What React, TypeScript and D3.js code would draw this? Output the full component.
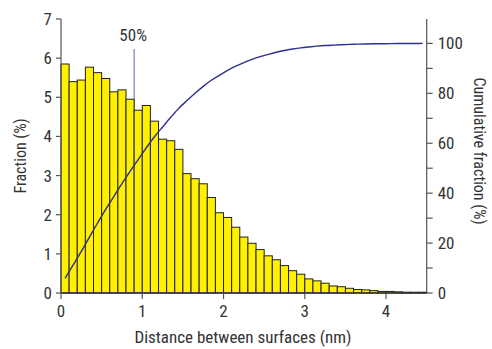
import React from "react";
import * as d3 from "d3";

const binStarts: number[] = Array.from({ length: 45 }, (_, i) => +(i * 0.1).toFixed(1));
const fractions: number[] = [
  5.85, 5.4, 5.44, 5.77, 5.63, 5.48, 5.14, 5.19, 4.95, 4.67,
  4.79, 4.39, 3.93, 3.89, 3.67, 3.05, 2.92, 2.79, 2.44, 2.05,
  1.93, 1.68, 1.43, 1.27, 1.11, 0.95, 0.85, 0.7, 0.57, 0.48,
  0.36, 0.31, 0.25, 0.18, 0.16, 0.12, 0.09, 0.08, 0.06, 0.04,
  0.04, 0.03, 0.02, 0.02, 0.02,
];
const binWidth = 0.1;
const xTicks: number[] = [0, 1, 2, 3, 4];
const yTicks: number[] = [0, 1, 2, 3, 4, 5, 6, 7];
const yRTicks: number[] = [0, 20, 40, 60, 80, 100];
const yRMinor: number[] = [10, 30, 50, 70, 90];
const medianX = 0.9;
const medianLabel = "50%";

const FONT = "'Liberation Sans Narrow', 'Arial Narrow', 'Roboto Condensed', 'Liberation Sans', sans-serif";

export default function App() {
  const x = d3.scaleLinear().domain([0, 4.5]).range([61, 426.7]);
  const y = d3.scaleLinear().domain([0, 7]).range([293, 19]);
  const yR = d3.scaleLinear().domain([0, 100]).range([293, 43.4]);

  const total = d3.sum(fractions);
  const cum = d3.cumsum(fractions);
  const pts: [number, number][] = binStarts.map((b, i) => [b + binWidth / 2, (cum[i] / total) * 100]);
  const line = d3
    .line<[number, number]>()
    .x((d) => x(d[0]))
    .y((d) => yR(d[1]))
    .curve(d3.curveMonotoneX);

  const axisColor = "#555";
  const textColor = "#333";

  return (
    <svg
      width={492}
      height={349}
      style={{ position: "absolute", left: 0, top: 0, background: "#fff" }}
      fontFamily={FONT}
    >
      {/* median marker */}
      <line x1={x(medianX)} x2={x(medianX)} y1={49} y2={y(0)} stroke="#7482c4" strokeWidth={1.2} />
      <text x={x(medianX) - 1} y={41} fontSize={17} textAnchor="middle" fill={textColor}>
        {medianLabel}
      </text>

      {/* bars */}
      {binStarts.map((b, i) => (
        <rect
          key={i}
          x={x(b)}
          y={y(fractions[i])}
          width={x(b + binWidth) - x(b)}
          height={y(0) - y(fractions[i])}
          fill="#fff000"
          stroke="#222"
          strokeWidth={1}
        />
      ))}

      {/* cumulative line */}
      <path d={line(pts) || ""} fill="none" stroke="#2e2f8f" strokeWidth={1.4} />

      {/* left axis */}
      <line x1={x(0)} x2={x(0)} y1={y(0)} y2={y(7)} stroke={axisColor} strokeWidth={1.2} />
      {yTicks.map((t) => (
        <g key={t}>
          <line x1={x(0) - 5} x2={x(0)} y1={y(t)} y2={y(t)} stroke={axisColor} strokeWidth={1.2} />
          <text x={x(0) - 9} y={y(t) + 6} fontSize={17} textAnchor="end" fill={textColor}>
            {t}
          </text>
        </g>
      ))}

      {/* right axis */}
      <line x1={x(4.5)} x2={x(4.5)} y1={y(0)} y2={y(7)} stroke={axisColor} strokeWidth={1.2} />
      {yRTicks.map((t) => (
        <g key={t}>
          <line x1={x(4.5)} x2={x(4.5) + 6} y1={yR(t)} y2={yR(t)} stroke={axisColor} strokeWidth={1.2} />
          <text x={x(4.5) + 11} y={yR(t) + 6} fontSize={17} textAnchor="start" fill={textColor}>
            {t}
          </text>
        </g>
      ))}
      {yRMinor.map((t) => (
        <line key={t} x1={x(4.5)} x2={x(4.5) + 6} y1={yR(t)} y2={yR(t)} stroke={axisColor} strokeWidth={1.2} />
      ))}

      {/* bottom axis */}
      <line x1={x(0)} x2={x(4.5)} y1={y(0)} y2={y(0)} stroke="#333" strokeWidth={1.4} />
      {xTicks.map((t) => (
        <g key={t}>
          <line x1={x(t)} x2={x(t)} y1={y(0)} y2={y(0) + 6} stroke={axisColor} strokeWidth={1.2} />
          <text x={x(t)} y={317} fontSize={17} textAnchor="middle" fill={textColor}>
            {t}
          </text>
        </g>
      ))}

      {/* titles */}
      <text x={243} y={343} fontSize={17} textAnchor="middle" fill={textColor}>
        Distance between surfaces (nm)
      </text>
      <text
        transform={`translate(26,156) rotate(-90)`}
        fontSize={16}
        textAnchor="middle"
        fill={textColor}
      >
        Fraction (%)
      </text>
      <text
        transform={`translate(474,151) rotate(90)`}
        fontSize={16}
        textAnchor="middle"
        fill={textColor}
      >
        Cumulative fraction (%)
      </text>
    </svg>
  );
}
